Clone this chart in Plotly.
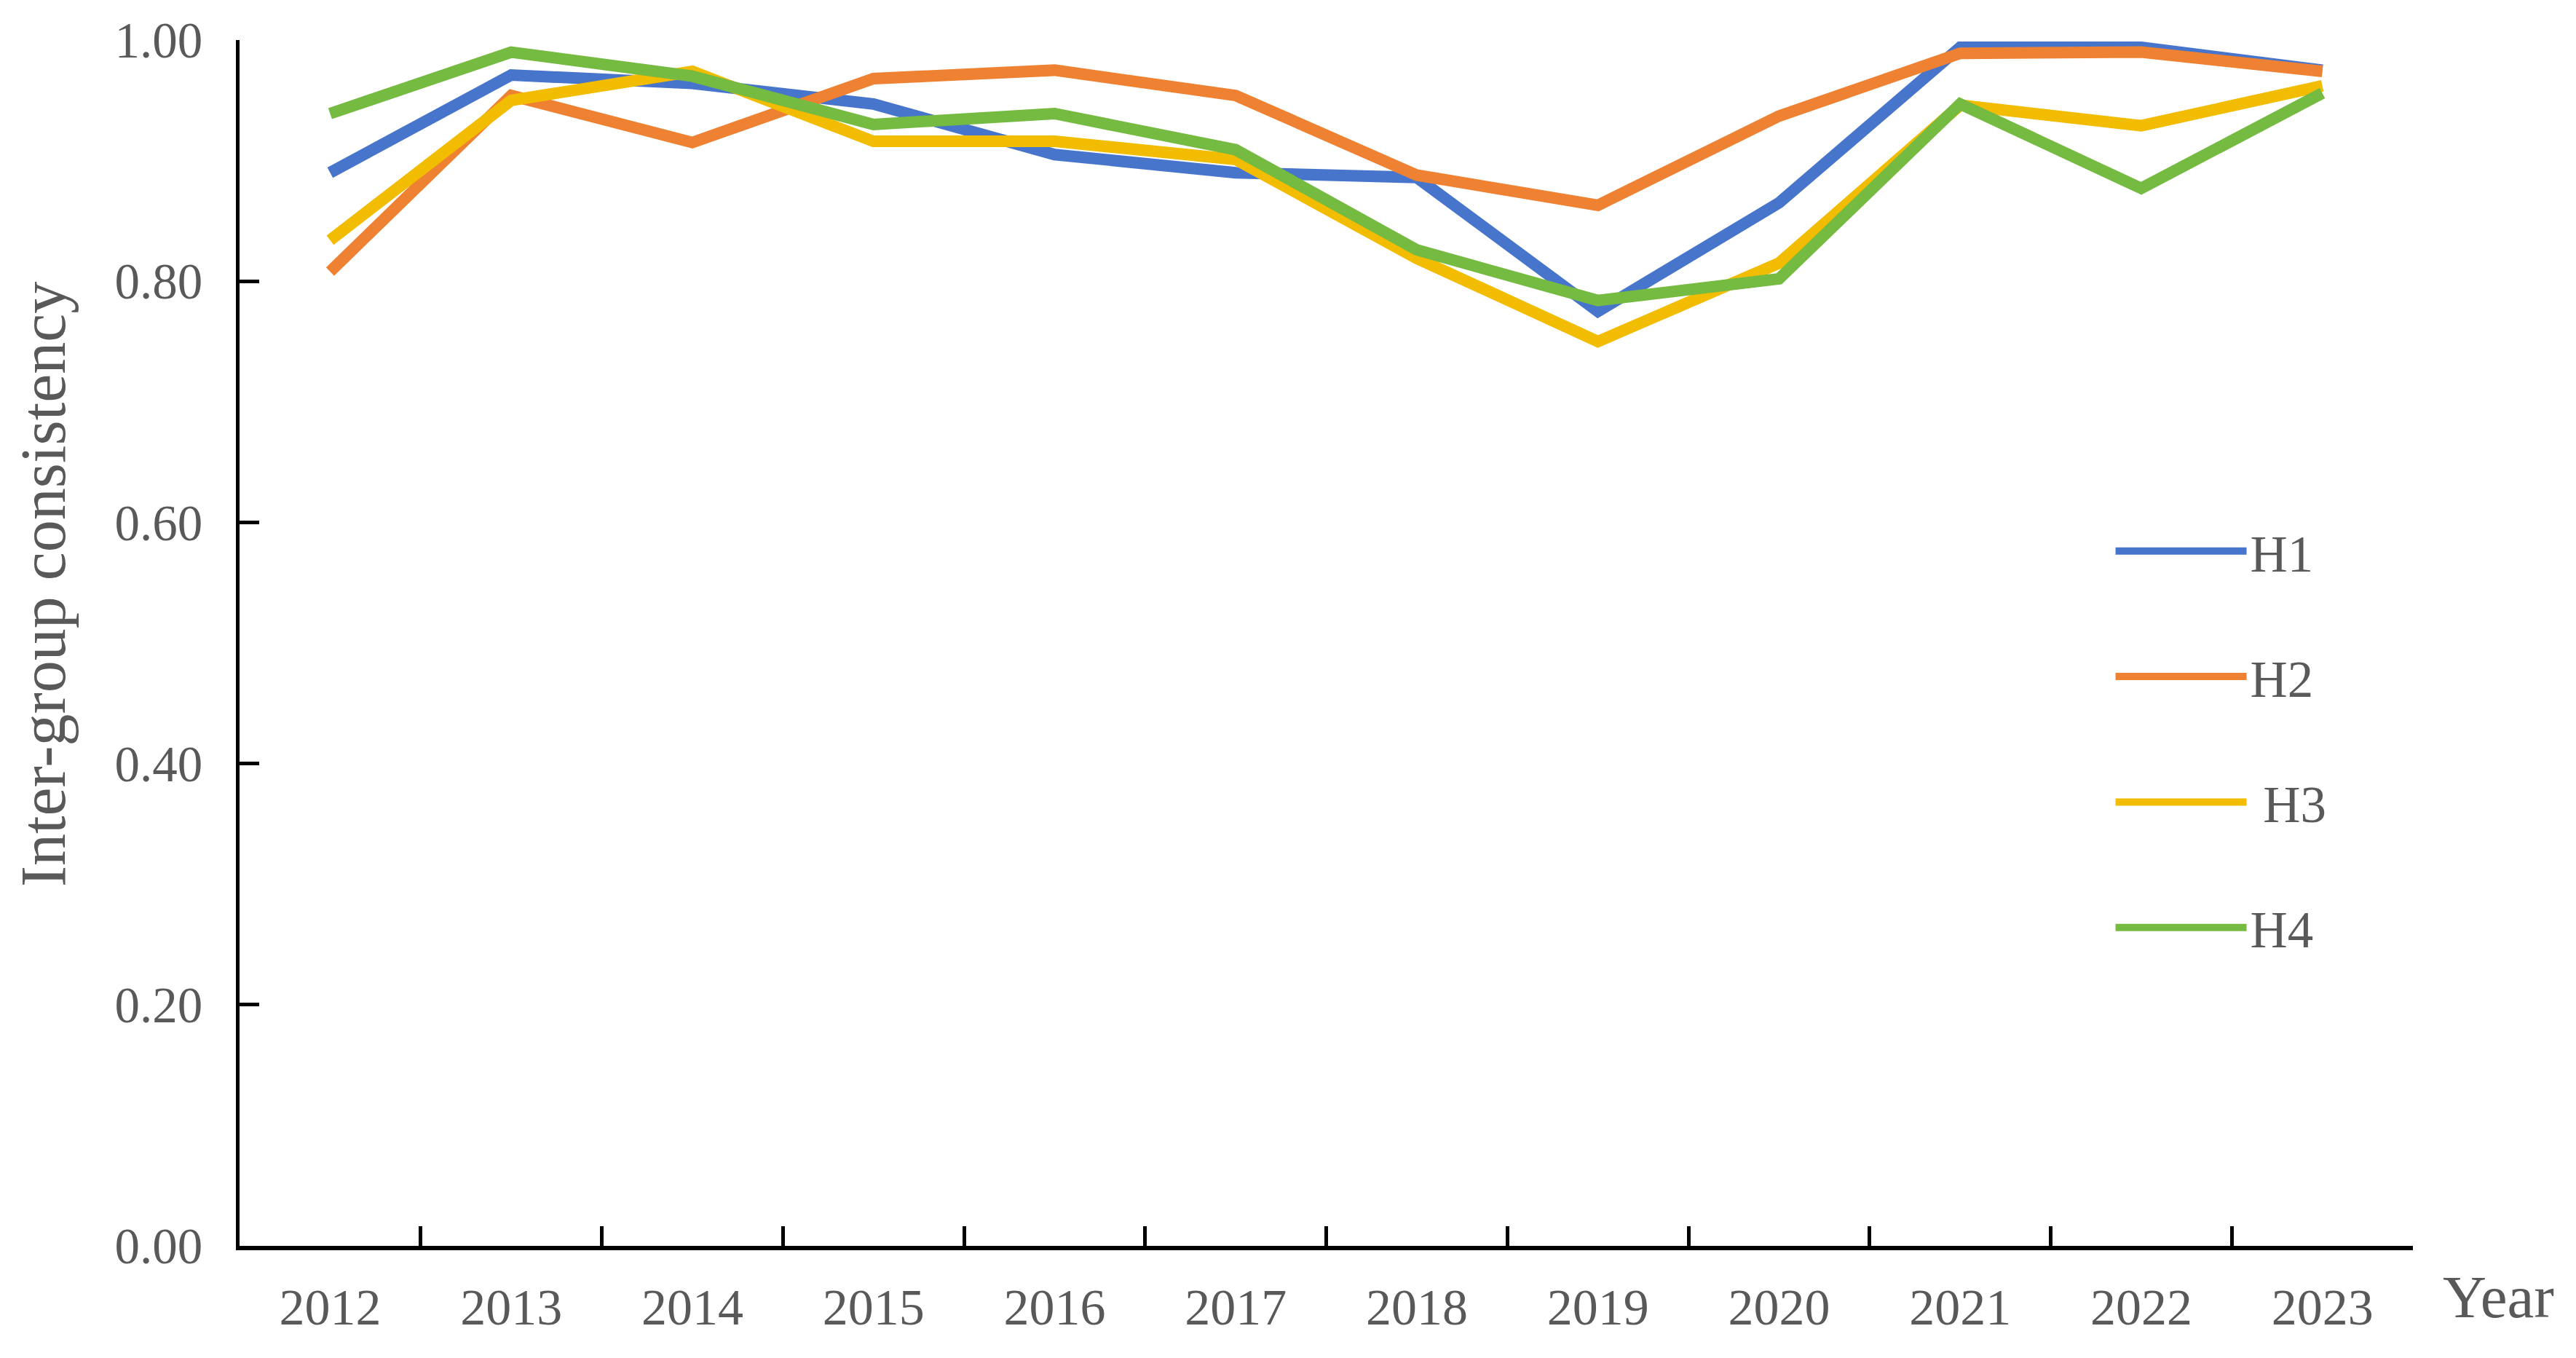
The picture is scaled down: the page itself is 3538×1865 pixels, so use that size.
import plotly.graph_objects as go

years = ["2012", "2013", "2014", "2015", "2016", "2017", "2018", "2019", "2020", "2021", "2022", "2023"]
h1 = [0.890, 0.971, 0.964, 0.947, 0.905, 0.890, 0.886, 0.775, 0.865, 0.994, 0.994, 0.975]
h2 = [0.808, 0.954, 0.915, 0.968, 0.975, 0.954, 0.888, 0.863, 0.937, 0.989, 0.990, 0.974]
h3 = [0.834, 0.950, 0.974, 0.916, 0.916, 0.901, 0.819, 0.750, 0.815, 0.946, 0.929, 0.962]
h4 = [0.939, 0.990, 0.970, 0.930, 0.939, 0.909, 0.826, 0.784, 0.802, 0.947, 0.877, 0.956]
names = ["H1", "H2", " H3", "H4"]
colors = ["#4775CC", "#EE8232", "#F2BC00", "#76BB41"]
y_ticks = [0.0, 0.2, 0.4, 0.6, 0.8, 1.0]

FONT = "Liberation Serif"
GRAY = "#595959"

fig = go.Figure()
for nm, vals, col in zip(names, [h1, h2, h3, h4], colors):
    fig.add_trace(go.Scatter(
        x=years, y=vals, name=nm, mode="lines",
        line=dict(color=col, width=16),
        legendgroup=nm,
    ))

fig.update_layout(
    width=3538, height=1865,
    margin=dict(l=329, r=224, t=55, b=154),
    paper_bgcolor="white", plot_bgcolor="white",
    font=dict(family=FONT, size=69, color=GRAY),
    showlegend=True,
    legend=dict(
        x=0.8615, y=0.608, xanchor="left", yanchor="top",
        bgcolor="rgba(0,0,0,0)",
        font=dict(family=FONT, size=71, color=GRAY),
        tracegroupgap=77,
        itemwidth=180,
    ),
    xaxis=dict(
        type="category", categoryorder="array", categoryarray=years,
        range=[-0.5, 11.5],
        tickson="boundaries", ticks="inside", ticklen=27, tickwidth=5, tickcolor="black",
        showline=True, linewidth=6, linecolor="black",
        showgrid=False, zeroline=False,
        tickfont=dict(family=FONT, size=70, color=GRAY),
        ticklabelstandoff=18,
    ),
    yaxis=dict(
        range=[0, 1.0], tickvals=y_ticks, tickformat=".2f",
        ticks="inside", ticklen=27, tickwidth=5, tickcolor="black",
        showline=True, linewidth=5, linecolor="black",
        showgrid=False, zeroline=False,
        tickfont=dict(family=FONT, size=69, color=GRAY),
        ticklabelstandoff=32,
    ),
    annotations=[
        dict(text="Inter-group consistency", xref="paper", yref="paper",
             x=-0.090, y=0.549, xanchor="center", yanchor="middle", textangle=-90,
             showarrow=False, font=dict(family=FONT, size=88, color=GRAY)),
        dict(text="Year", xref="paper", yref="paper",
             x=1.013, y=0, xanchor="left", yanchor="middle", yshift=-70,
             showarrow=False, font=dict(family=FONT, size=83, color=GRAY)),
    ],
)

fig.write_html(
    "out.html",
    config={"displayModeBar": False},
    post_script="document.body.style.margin='0';document.body.style.overflow='hidden';",
)
